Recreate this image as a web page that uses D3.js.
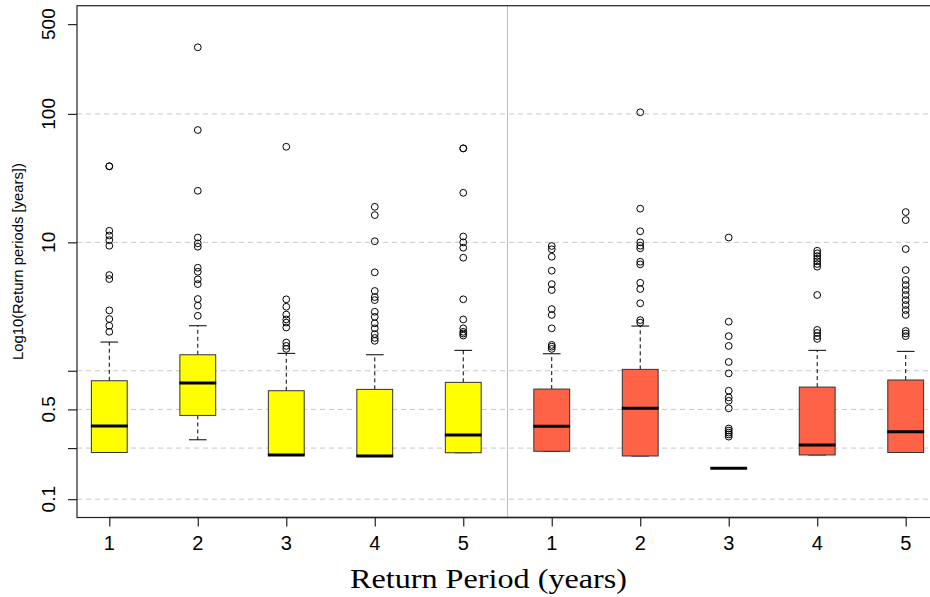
<!DOCTYPE html>
<html lang="en">
<head>
<meta charset="utf-8">
<title>Return periods</title>
<script src="https://d3js.org/d3.v7.min.js"></script>
<style>
  body { margin: 0; background: #fff; }
  svg { display: block; }
</style>
</head>
<body>
<div id="viz"></div>
<script>

// box positions 1..10, labels shown on the axis
var labels = ["1", "2", "3", "4", "5", "1", "2", "3", "4", "5"];
var groups = ["a", "a", "a", "a", "a", "b", "b", "b", "b", "b"];

// box statistics
var whiskerLo = [0.231, 0.290, 0.221, 0.217, 0.230, 0.236, 0.217, 0.174, 0.221, 0.231];
var q1        = [0.231, 0.449, 0.221, 0.217, 0.230, 0.236, 0.217, 0.174, 0.221, 0.231];
var medians   = [0.371, 0.802, 0.221, 0.217, 0.316, 0.369, 0.510, 0.174, 0.264, 0.335];
var q3        = [0.836, 1.332, 0.699, 0.716, 0.812, 0.720, 1.025, 0.174, 0.746, 0.847];
var whiskerHi = [1.673, 2.241, 1.366, 1.332, 1.442, 1.356, 2.229, 0.174, 1.442, 1.416];

var outliers = [
  [39.1, 39.1, 12.3, 11.3, 10.4, 9.4, 5.56, 5.18, 2.95, 2.53, 2.24, 2.01],
  [330, 74.9, 25.2, 10.9, 9.82, 9.24, 6.34, 5.90, 5.15, 4.73, 3.62, 3.21, 2.68],
  [55.5, 3.60, 3.15, 2.74, 2.51, 2.37, 2.17, 1.66, 1.56, 1.48],
  [18.9, 16.3, 10.2, 5.84, 4.18, 3.75, 3.55, 2.88, 2.63, 2.34, 2.14, 1.93, 1.80, 1.71],
  [53.9, 53.9, 24.3, 11.1, 10.0, 9.08, 7.59, 3.60, 2.51, 2.14, 2.01, 1.95, 1.88],
  [9.36, 8.82, 7.72, 6.01, 4.73, 4.25, 3.02, 2.72, 2.14, 1.59, 1.54, 1.48],
  [103, 18.3, 12.2, 10.0, 9.41, 8.98, 7.06, 6.74, 4.84, 4.33, 3.35, 2.48, 2.37],
  [10.9, 2.41, 1.86, 1.56, 1.17, 0.954, 0.699, 0.620, 0.584, 0.510, 0.355, 0.342, 0.330, 0.319, 0.307],
  [8.60, 8.21, 7.82, 7.45, 7.11, 6.78, 6.46, 3.89, 2.08, 1.97, 1.86, 1.77],
  [17.2, 14.9, 8.87, 6.08, 5.09, 4.65, 4.25, 3.89, 3.55, 3.25, 2.97, 2.72, 2.04, 1.95, 1.86]
];

// y axis
var yTicks = [0.1, 0.25, 0.5, 1, 10, 100, 500];
var yTickLabels = ["0.1", "", "0.5", "", "10", "100", "500"];
var gridValues = [0.1, 0.25, 0.5, 1, 10, 100];

var colors = { a: "#ffff00", b: "#ff6347" };

var W = 930, H = 597;
var plotLeft = 77, plotTop = 5.7, plotRight = 938, plotBottom = 517.5;

var svg = d3.select("#viz").append("svg")
  .attr("width", W)
  .attr("height", H);

var x = d3.scaleLinear().domain([0.635, 10.365]).range([plotLeft, plotRight]);
var y = d3.scaleLog().domain([0.072, 696]).range([plotBottom, plotTop]);

var boxW = 0.405;     // in x units
var stapleW = 0.2;

var data = labels.map(function(l, i) {
  return { pos: i + 1, group: groups[i], lo: whiskerLo[i], q1: q1[i], med: medians[i],
           q3: q3[i], hi: whiskerHi[i], out: outliers[i] };
});

// grid lines
svg.append("g").selectAll("line")
  .data(gridValues)
  .join("line")
  .attr("x1", plotLeft).attr("x2", plotRight)
  .attr("y1", function(d) { return y(d); })
  .attr("y2", function(d) { return y(d); })
  .attr("stroke", "#c8c8c8")
  .attr("stroke-width", 1)
  .attr("stroke-dasharray", "5,4");

// separator between the two groups
svg.append("line")
  .attr("x1", x(5.5)).attr("x2", x(5.5))
  .attr("y1", plotTop).attr("y2", plotBottom)
  .attr("stroke", "#c0c0c0")
  .attr("stroke-width", 1);

var boxes = svg.append("g").selectAll("g")
  .data(data)
  .join("g");

// whiskers (dashed)
boxes.append("line")
  .attr("x1", function(d) { return x(d.pos); })
  .attr("x2", function(d) { return x(d.pos); })
  .attr("y1", function(d) { return y(d.q3); })
  .attr("y2", function(d) { return y(d.hi); })
  .attr("stroke", "#000")
  .attr("stroke-dasharray", "4,3");

boxes.append("line")
  .attr("x1", function(d) { return x(d.pos); })
  .attr("x2", function(d) { return x(d.pos); })
  .attr("y1", function(d) { return y(d.q1); })
  .attr("y2", function(d) { return y(d.lo); })
  .attr("stroke", "#000")
  .attr("stroke-dasharray", "4,3");

// staples
boxes.each(function(d) {
  var g = d3.select(this);
  [d.lo, d.hi].forEach(function(v) {
    g.append("line")
      .attr("x1", x(d.pos - stapleW / 2))
      .attr("x2", x(d.pos + stapleW / 2))
      .attr("y1", y(v)).attr("y2", y(v))
      .attr("stroke", "#000")
      .attr("stroke-width", 1);
  });
});

// boxes
boxes.append("rect")
  .attr("x", function(d) { return x(d.pos - boxW / 2); })
  .attr("width", x(boxW) - x(0))
  .attr("y", function(d) { return y(d.q3); })
  .attr("height", function(d) { return y(d.q1) - y(d.q3); })
  .attr("fill", function(d) { return colors[d.group]; })
  .attr("stroke", "#333")
  .attr("stroke-width", 1);

// medians
boxes.append("line")
  .attr("x1", function(d) { return x(d.pos - boxW / 2) - 0.5; })
  .attr("x2", function(d) { return x(d.pos + boxW / 2) + 0.5; })
  .attr("y1", function(d) { return y(d.med); })
  .attr("y2", function(d) { return y(d.med); })
  .attr("stroke", "#000")
  .attr("stroke-width", 3);

// outliers
boxes.selectAll("circle")
  .data(function(d) { return d.out.map(function(v) { return { pos: d.pos, v: v }; }); })
  .join("circle")
  .attr("cx", function(d) { return x(d.pos); })
  .attr("cy", function(d) { return y(d.v); })
  .attr("r", 3.4)
  .attr("fill", "none")
  .attr("stroke", "#000")
  .attr("stroke-width", 1);

// plot frame
svg.append("rect")
  .attr("x", plotLeft).attr("y", plotTop)
  .attr("width", plotRight - plotLeft).attr("height", plotBottom - plotTop)
  .attr("fill", "none")
  .attr("stroke", "#222")
  .attr("stroke-width", 1.2);

// y axis ticks and rotated labels
var yAxis = svg.append("g")
  .attr("transform", "translate(" + plotLeft + ",0)")
  .call(d3.axisLeft(y).tickValues(yTicks).tickFormat("").tickSize(9).tickSizeOuter(0));
yAxis.select(".domain").remove();
yAxis.selectAll(".tick line").attr("stroke", "#222").attr("stroke-width", 1.2);

svg.append("g").selectAll("text")
  .data(yTicks.filter(function(d, i) { return yTickLabels[i] !== ""; }))
  .join("text")
  .attr("transform", function(d) { return "translate(55," + y(d) + ") rotate(-90)"; })
  .attr("text-anchor", "middle")
  .attr("font-family", "Liberation Sans, Arial, sans-serif")
  .attr("font-size", 19)
  .text(function(d) { return yTickLabels[yTicks.indexOf(d)]; });

// x axis
var xAxis = svg.append("g")
  .attr("transform", "translate(0," + plotBottom + ")")
  .call(d3.axisBottom(x).tickValues(d3.range(1, 11)).tickFormat("").tickSize(9).tickSizeOuter(0));
xAxis.select(".domain").remove();
xAxis.selectAll(".tick line").attr("stroke", "#222").attr("stroke-width", 1.2);

svg.append("line")
  .attr("x1", x(1)).attr("x2", x(10))
  .attr("y1", plotBottom).attr("y2", plotBottom)
  .attr("stroke", "#222")
  .attr("stroke-width", 1.5);

svg.append("g").selectAll("text")
  .data(data)
  .join("text")
  .attr("x", function(d) { return x(d.pos); })
  .attr("y", 550)
  .attr("text-anchor", "middle")
  .attr("font-family", "Liberation Sans, Arial, sans-serif")
  .attr("font-size", 20)
  .text(function(d, i) { return labels[i]; });

// axis titles
svg.append("text")
  .attr("x", 488.5)
  .attr("y", 588)
  .attr("text-anchor", "middle")
  .attr("font-family", "Liberation Serif, DejaVu Serif, serif")
  .attr("font-size", 27)
  .attr("textLength", 277)
  .attr("lengthAdjust", "spacingAndGlyphs")
  .text("Return Period (years)");

svg.append("text")
  .attr("transform", "translate(23," + ((plotTop + plotBottom) / 2) + ") rotate(-90)")
  .attr("text-anchor", "middle")
  .attr("font-family", "Liberation Sans, Arial, sans-serif")
  .attr("font-size", 14.5)
  .attr("textLength", 197)
  .attr("lengthAdjust", "spacingAndGlyphs")
  .text("Log10(Return periods [years])");

</script>
</body>
</html>
